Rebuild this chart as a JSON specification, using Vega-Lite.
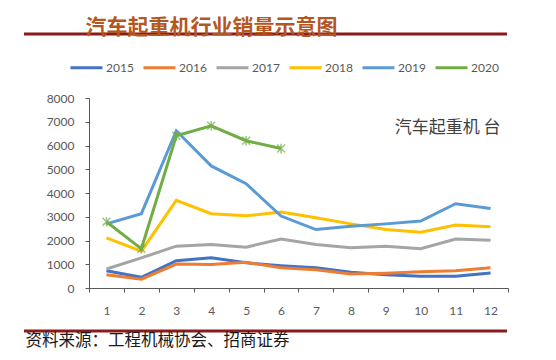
{
  "$schema": "https://vega.github.io/schema/vega-lite/v6.json",
  "padding": {"left": 22, "top": 16, "right": 8, "bottom": 4},
  "spacing": 12,
  "config": {"view": {"stroke": null}, "font": "Lato",
    "axisY": {"values": [0, 1000, 2000, 3000, 4000, 5000, 6000, 7000, 8000], "format": "d", "labelOverlap": false, "labelFlush": false}},
  "resolve": {"scale": {"color": "independent"}, "legend": {"color": "independent"}},
  "vconcat": [
    {
      "width": 483,
      "height": 1,
      "data": {"values": [{}]},
      "title": {"text": "汽车起重机行业销量示意图", "anchor": "start", "dx": 63, "offset": -5, "fontSize": 21, "font": "Noto Sans CJK SC", "fontWeight": "bold", "color": "#B4561F"},
      "mark": {"type": "rule", "color": "#8B1A1A", "strokeWidth": 3},
      "encoding": {
        "x": {"datum": 0, "type": "quantitative", "scale": {"domain": [0, 1]}, "axis": null},
        "x2": {"datum": 1},
        "y": {"datum": 0, "type": "quantitative", "scale": {"domain": [0, 1]}, "axis": null}
      }
    },
    {
      "spacing": 0,
      "resolve": {"scale": {"color": "independent"}, "legend": {"color": "independent"}},
      "hconcat": [
        {
          "width": 22,
          "height": 1,
          "data": {"values": [{}]},
          "mark": {"type": "rule", "opacity": 0},
          "encoding": {}
        },
        {
          "width": 419,
          "height": 190,
          "data": {"values": [
            {"month": 1, "year": "2015", "sales": 730}, {"month": 2, "year": "2015", "sales": 450}, {"month": 3, "year": "2015", "sales": 1150}, {"month": 4, "year": "2015", "sales": 1270}, {"month": 5, "year": "2015", "sales": 1060}, {"month": 6, "year": "2015", "sales": 940}, {"month": 7, "year": "2015", "sales": 850}, {"month": 8, "year": "2015", "sales": 660}, {"month": 9, "year": "2015", "sales": 560}, {"month": 10, "year": "2015", "sales": 490}, {"month": 11, "year": "2015", "sales": 490}, {"month": 12, "year": "2015", "sales": 630},
            {"month": 1, "year": "2016", "sales": 560}, {"month": 2, "year": "2016", "sales": 370}, {"month": 3, "year": "2016", "sales": 1010}, {"month": 4, "year": "2016", "sales": 990}, {"month": 5, "year": "2016", "sales": 1080}, {"month": 6, "year": "2016", "sales": 850}, {"month": 7, "year": "2016", "sales": 770}, {"month": 8, "year": "2016", "sales": 590}, {"month": 9, "year": "2016", "sales": 620}, {"month": 10, "year": "2016", "sales": 680}, {"month": 11, "year": "2016", "sales": 730}, {"month": 12, "year": "2016", "sales": 850},
            {"month": 1, "year": "2017", "sales": 800}, {"month": 2, "year": "2017", "sales": 1270}, {"month": 3, "year": "2017", "sales": 1760}, {"month": 4, "year": "2017", "sales": 1830}, {"month": 5, "year": "2017", "sales": 1720}, {"month": 6, "year": "2017", "sales": 2060}, {"month": 7, "year": "2017", "sales": 1830}, {"month": 8, "year": "2017", "sales": 1690}, {"month": 9, "year": "2017", "sales": 1760}, {"month": 10, "year": "2017", "sales": 1650}, {"month": 11, "year": "2017", "sales": 2060}, {"month": 12, "year": "2017", "sales": 2010},
            {"month": 1, "year": "2018", "sales": 2110}, {"month": 2, "year": "2018", "sales": 1550}, {"month": 3, "year": "2018", "sales": 3690}, {"month": 4, "year": "2018", "sales": 3130}, {"month": 5, "year": "2018", "sales": 3040}, {"month": 6, "year": "2018", "sales": 3200}, {"month": 7, "year": "2018", "sales": 2960}, {"month": 8, "year": "2018", "sales": 2700}, {"month": 9, "year": "2018", "sales": 2460}, {"month": 10, "year": "2018", "sales": 2350}, {"month": 11, "year": "2018", "sales": 2650}, {"month": 12, "year": "2018", "sales": 2580},
            {"month": 1, "year": "2019", "sales": 2700}, {"month": 2, "year": "2019", "sales": 3130}, {"month": 3, "year": "2019", "sales": 6620}, {"month": 4, "year": "2019", "sales": 5140}, {"month": 5, "year": "2019", "sales": 4390}, {"month": 6, "year": "2019", "sales": 3030}, {"month": 7, "year": "2019", "sales": 2460}, {"month": 8, "year": "2019", "sales": 2600}, {"month": 9, "year": "2019", "sales": 2700}, {"month": 10, "year": "2019", "sales": 2820}, {"month": 11, "year": "2019", "sales": 3550}, {"month": 12, "year": "2019", "sales": 3350},
            {"month": 1, "year": "2020", "sales": 2790}, {"month": 2, "year": "2020", "sales": 1650}, {"month": 3, "year": "2020", "sales": 6410}, {"month": 4, "year": "2020", "sales": 6830}, {"month": 5, "year": "2020", "sales": 6200}, {"month": 6, "year": "2020", "sales": 5870}
          ]},
          "layer": [
            {
              "mark": {"type": "line", "strokeWidth": 3},
              "encoding": {
                "x": {"field": "month", "type": "ordinal", "scale": {"type": "band", "paddingInner": 0, "paddingOuter": 0},
                  "axis": {"labelAngle": 0, "tickBand": "extent", "title": null, "domainColor": "#595959", "tickColor": "#595959", "tickSize": 4, "labelColor": "#595959", "labelFontSize": 12, "labelPadding": 13}},
                "y": {"field": "sales", "type": "quantitative", "scale": {"domain": [0, 8000], "nice": false},
                  "axis": {"values": [0, 1000, 2000, 3000, 4000, 5000, 6000, 7000, 8000], "format": "d", "labelOverlap": false, "title": null, "grid": false, "domainColor": "#595959", "tickColor": "#595959", "tickSize": 4, "labelColor": "#595959", "labelFontSize": 12, "labelPadding": 11}},
                "color": {"field": "year", "type": "nominal",
                  "scale": {"domain": ["2015", "2016", "2017", "2018", "2019", "2020"], "range": ["#4472C4", "#ED7D31", "#A5A5A5", "#FFC000", "#5B9BD5", "#70AD47"]},
                  "legend": {"orient": "none", "legendX": -20, "legendY": -48, "direction": "horizontal", "title": null, "symbolType": "stroke", "symbolStrokeWidth": 3, "symbolSize": 1024, "labelFontSize": 12, "labelColor": "#595959", "labelOffset": 2, "columnPadding": 3}}
              }
            },
            {
              "transform": [{"filter": {"field": "year", "equal": "2020"}}],
              "mark": {"type": "point", "shape": "M-1,-1L1,1M1,-1L-1,1M0,-1.2L0,1.2", "filled": false, "size": 64, "strokeWidth": 1.5, "color": "#70AD47"},
              "encoding": {
                "x": {"field": "month", "type": "ordinal"},
                "y": {"field": "sales", "type": "quantitative", "axis": {"values": [0, 1000, 2000, 3000, 4000, 5000, 6000, 7000, 8000], "format": "d", "labelOverlap": false, "title": null}}
              }
            },
            {
              "data": {"values": [{}]},
              "mark": {"type": "text", "align": "left", "baseline": "middle", "dx": 9, "fontSize": 17, "font": "Noto Sans CJK SC", "color": "#404040", "text": "汽车起重机 台"},
              "encoding": {
                "x": {"datum": 9, "type": "ordinal"},
                "y": {"datum": 6750, "type": "quantitative", "axis": {"values": [0, 1000, 2000, 3000, 4000, 5000, 6000, 7000, 8000], "format": "d", "labelOverlap": false, "title": null}}
              }
            }
          ]
        }
      ]
    },
    {
      "width": 483,
      "height": 3,
      "data": {"values": [{}]},
      "title": {"text": "资料来源：工程机械协会、招商证券", "orient": "bottom", "anchor": "start", "dx": 3, "offset": 0, "fontSize": 16.5, "font": "Noto Sans CJK SC", "fontWeight": "normal", "color": "#1A1A1A"},
      "mark": {"type": "rule", "color": "#8B1A1A", "strokeWidth": 3},
      "encoding": {
        "x": {"datum": 0, "type": "quantitative", "scale": {"domain": [0, 1]}, "axis": null},
        "x2": {"datum": 1},
        "y": {"datum": 0, "type": "quantitative", "scale": {"domain": [0, 1]}, "axis": null}
      }
    }
  ]
}
